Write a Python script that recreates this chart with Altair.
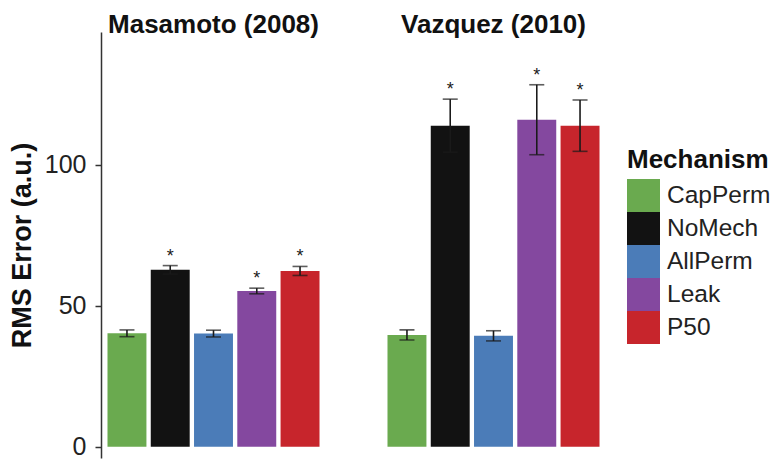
import altair as alt
import pandas as pd

studies = ["Masamoto (2008)", "Vazquez (2010)"]
mechanisms = ["CapPerm", "NoMech", "AllPerm", "Leak", "P50"]
colors = ["#6aaa4f", "#121212", "#4b7cb8", "#84489f", "#c7252c"]

masamoto_mean = [40.2, 62.7, 40.1, 55.2, 62.3]
masamoto_err = [1.2, 1.5, 1.2, 1.0, 1.6]
vazquez_mean = [39.6, 113.8, 39.3, 115.9, 113.8]
vazquez_err = [1.8, 9.4, 1.8, 12.4, 9.1]
significant = ["", "*", "", "*", "*"]

rows = []
for study, means, errs in [(studies[0], masamoto_mean, masamoto_err),
                           (studies[1], vazquez_mean, vazquez_err)]:
    for m, v, e, s in zip(mechanisms, means, errs, significant):
        rows.append({"study": study, "mechanism": m, "rms": v,
                     "lo": v - e, "hi": v + e, "star": s})
df = pd.DataFrame(rows)

FONT = "Liberation Sans"

x_enc = alt.X("mechanism:N", sort=mechanisms, axis=None,
              scale=alt.Scale(paddingInner=0.1, paddingOuter=0.15))
y_scale = alt.Scale(domain=[-4, 147], nice=False, zero=False)

bars = alt.Chart().mark_bar().encode(
    x=x_enc,
    y=alt.Y("rms:Q", scale=y_scale, stack=None,
            axis=alt.Axis(values=[0, 50, 100], title="RMS Error (a.u.)",
                          grid=False, tickSize=6, labelPadding=9,
                          titlePadding=8)),
    y2=alt.datum(0),
    color=alt.Color("mechanism:N", sort=mechanisms,
                    scale=alt.Scale(domain=mechanisms, range=colors),
                    legend=alt.Legend(title="Mechanism", orient="none",
                                      legendX=526, legendY=115)),
)

rule = alt.Chart().mark_rule(color="#1a1a1a", strokeWidth=1.6).encode(
    x=x_enc, y=alt.Y("lo:Q", scale=y_scale), y2="hi:Q")

cap_hi = alt.Chart().mark_tick(color="#1a1a1a", size=15, thickness=1.6).encode(
    x=x_enc, y=alt.Y("hi:Q", scale=y_scale))
cap_lo = alt.Chart().mark_tick(color="#1a1a1a", size=15, thickness=1.6).encode(
    x=x_enc, y=alt.Y("lo:Q", scale=y_scale))

stars = alt.Chart().mark_text(font=FONT, fontSize=18, color="#1a1a1a",
                              baseline="alphabetic", dy=-4).encode(
    x=x_enc, y=alt.Y("hi:Q", scale=y_scale), text="star:N")

layered = alt.layer(bars, rule, cap_hi, cap_lo, stars).properties(
    width=225, height=426)

chart = layered.facet(
    data=df,
    column=alt.Column("study:N", sort=studies,
                      header=alt.Header(title=None, labelFontSize=26,
                                        labelFontWeight="bold", labelFont=FONT,
                                        labelColor="#111", labelPadding=-6)),
    spacing=55,
).configure(
    padding={"left": 0, "top": 4, "right": 0, "bottom": 0},
).configure_view(stroke=None).configure_axis(
    labelFont=FONT, labelFontSize=25, labelColor="#222",
    titleFont=FONT, titleFontSize=27, titleFontWeight="bold", titleColor="#111",
    domainColor="#333", domainWidth=1.5, tickColor="#333", tickWidth=1.5,
).configure_legend(
    titleFont=FONT, titleFontSize=26, titleFontWeight="bold", titleColor="#111",
    titleBaseline="top", titlePadding=6,
    labelFont=FONT, labelFontSize=24.5, labelColor="#222", labelOffset=7,
    symbolType="square", symbolSize=1089, symbolStrokeWidth=0,
    symbolOpacity=1, rowPadding=0, padding=0,
)

chart.save("out.html", embed_options={"renderer": "svg", "actions": False})
